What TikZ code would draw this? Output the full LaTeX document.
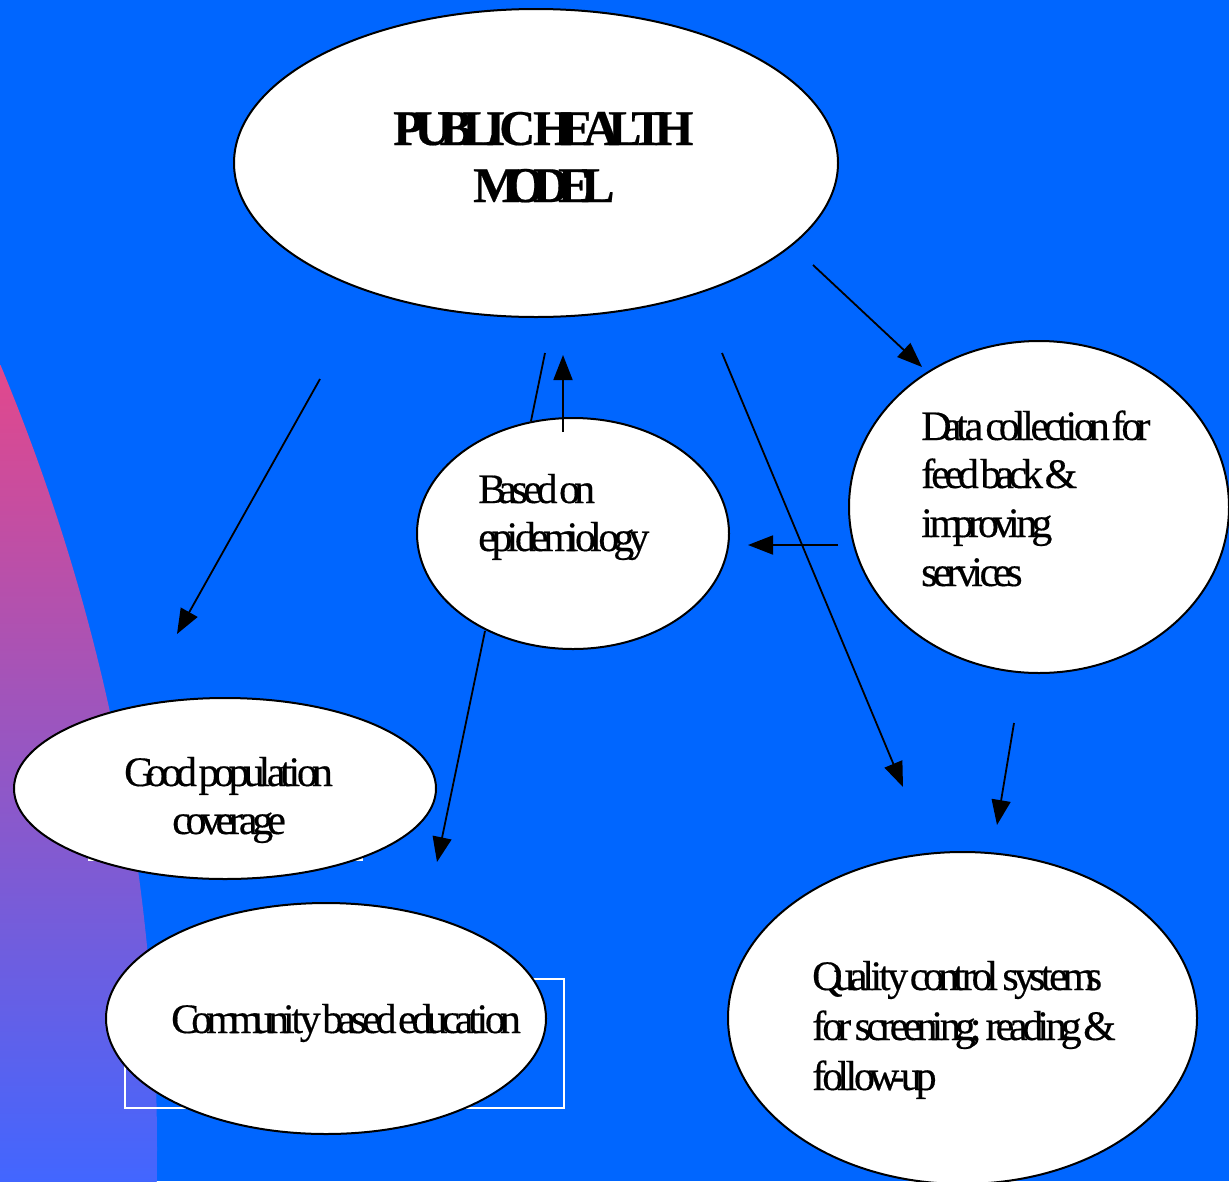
\documentclass[tikz,border=0pt]{standalone}
\usepackage{fontspec}
\setmainfont{Liberation Serif}[FakeBold=0.4]
\usetikzlibrary{shapes.geometric,arrows.meta}
\definecolor{bgblue}{RGB}{0,102,255}
\definecolor{arcpink}{RGB}{226,72,140}
\definecolor{arcblue}{RGB}{66,102,255}
\def\sqzend{sqzend-quark}
\def\sqzf{0.715}
\newcommand\sqz[1]{\sqzloop#1\sqzend}
\def\sqzloop#1{\ifx#1\sqzend\else\makebox[\sqzf\width][l]{#1}\expandafter\sqzloop\fi}
\tikzset{
  oval/.style={ellipse, draw=black, fill=white, line width=2pt, inner sep=0pt, outer sep=0pt},
  conn/.style={line width=1.8pt, draw=black},
  arr/.style={conn, -{Triangle[length=25pt,width=19pt]}},
  txt/.style={anchor=base west, inner sep=0pt, font=\fontsize{42}{48}\selectfont},
  ttl/.style={anchor=base west, inner sep=0pt, font=\fontsize{50}{57}\selectfont\bfseries\def\sqzf{0.694}},
}
\begin{document}
\begin{tikzpicture}[x=1pt,y=-1pt]
\useasboundingbox (0,0) rectangle (1229,1181);
\fill[bgblue] (0,0) rectangle (1229,1181);
% left gradient arc
\begin{scope}
  \clip (-1878,1149) circle (2035pt);
  \shade[top color=arcpink, bottom color=arcblue] (0,365) rectangle (175,1181);
\end{scope}
% white box behind "Good population coverage"
\fill[white] (88,770) rectangle (363,861);
% white outline box behind "Community based education"
\draw[white, line width=2pt] (125,979) rectangle (564,1108);

% ellipses
\node[oval, minimum width=604pt, minimum height=308pt] (ph) at (536,163) {};
\node[oval, minimum width=312pt, minimum height=231pt] (epi) at (573,533.5) {};
\node[oval, minimum width=380pt, minimum height=332pt] (data) at (1039,507) {};
\node[oval, minimum width=422pt, minimum height=181pt] (good) at (225,788.5) {};
\node[oval, minimum width=440pt, minimum height=231pt] (comm) at (326,1018.5) {};
\node[oval, minimum width=469pt, minimum height=332pt] (qual) at (962.5,1018) {};

% texts
\node[ttl] (ph1) at (393,145) {\sqz{PUBLIC~HEALTH}};
\node[ttl] (ph2) at (473,202) {\sqz{MODEL}};
\node[txt] (epi1) at (478,503) {\sqz{Based~on}};
\node[txt] (epi2) at (478,551) {\sqz{epidemiology}};
\node[txt] (data1) at (921,440) {\sqz{Data~collection~for}};
\node[txt] (data2) at (921,488) {\sqz{feed~back~\&}};
\node[txt] (data3) at (921,537) {\sqz{improving}};
\node[txt] (data4) at (921,586) {\sqz{services}};
\node[txt] (good1) at (124,786) {\sqz{Good~population}};
\node[txt] (good2) at (172,834) {\sqz{coverage}};
\node[txt] (comm1) at (171,1033) {\sqz{Community~based~education}};
\node[txt] (qual1) at (812,990) {\sqz{Quality~control~systems}};
\node[txt] (qual2) at (812,1040) {\sqz{for~screening;~reading~\&}};
\node[txt] (qual3) at (812,1090) {\sqz{follow-up}};

% connector end points
\coordinate (a1) at (813,265);  \coordinate (a2) at (922,367);
\coordinate (b1) at (320,379);  \coordinate (b2) at (177,634);
\coordinate (c1) at (531,421);  \coordinate (c2) at (545,353);
\coordinate (d1) at (563,432);  \coordinate (d2) at (563,355);
\coordinate (e1) at (722,353);  \coordinate (e2) at (903,787);
\coordinate (f1) at (838,545);  \coordinate (f2) at (748,545);
\coordinate (g1) at (485,631);  \coordinate (g2) at (437,862);
\coordinate (h1) at (1014,723); \coordinate (h2) at (997,825);

% connectors
\draw[arr] (a1) -- (a2);
\draw[arr] (b1) -- (b2);
\draw[conn] (c1) -- (c2);
\draw[arr] (d1) -- (d2);
\draw[arr] (e1) -- (e2);
\draw[arr] (f1) -- (f2);
\draw[arr] (g1) -- (g2);
\draw[arr] (h1) -- (h2);
\end{tikzpicture}
\end{document}
